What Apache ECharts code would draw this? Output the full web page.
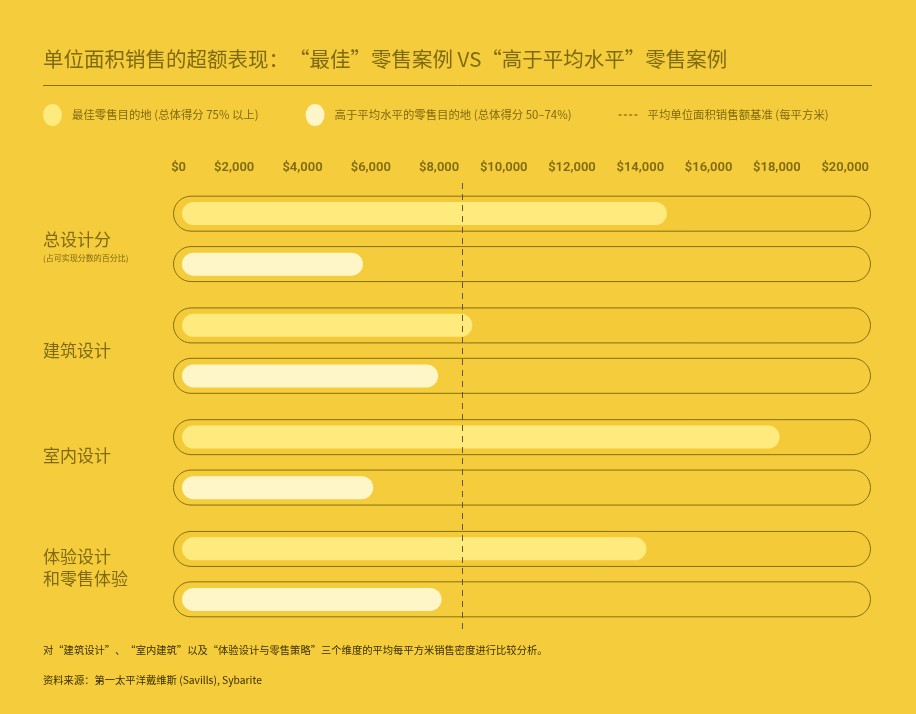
<!DOCTYPE html>
<html>
<head>
<meta charset="utf-8">
<script src="https://cdn.jsdelivr.net/npm/echarts@6/dist/echarts.min.js"></script>
<style>
  html, body { margin: 0; padding: 0; background: #F5CC3B; }
  #chart { width: 916px; height: 714px; }
</style>
</head>
<body>
<div id="chart"></div>
<script>
// ---- data ----
const categories = ['总设计分', '建筑设计', '室内设计', '体验设计\n和零售体验'];
const categoryNotes = ['(占可实现分数的百分比)', '', '', ''];
const seriesNames = ['最佳零售目的地 (总体得分 75% 以上)', '高于平均水平的零售目的地 (总体得分 50–74%)'];
const benchmarkName = '平均单位面积销售额基准 (每平方米)';
const bestValues = [14200, 8500, 17500, 13600];
const aboveAvgValues = [5300, 7500, 5600, 7600];
const benchmarkValue = 8200;
const trackValues = [1, 1, 1, 1];
const axisMin = 0, axisMax = 20000, axisStep = 2000;

// ---- layout / style ----
const labelShift = [8, 0, -7, -7]; // vertical nudge of category labels (px)
const BG = '#F5CC3B';
const OLIVE = '#85700F';
const TEXT = '#7E6A12';
const CJK = '"Noto Sans CJK SC", sans-serif';
const ellipse = 'path://M0,11A9.5,11 0 1,0 19,11A9.5,11 0 1,0 0,11Z';
const dashIcon = 'path://M0,0h0.01v0.01h-0.01z M0,21.99h0.01v0.01h-0.01z M0,10.5h3.5v1h-3.5z M6,10.5h3.5v1h-3.5z M12,10.5h3.5v1h-3.5z M18,10.5h3.5v1h-3.5z';

function catLabel(v, i) {
  let s = v.split('\n').map(t => '{a|' + t + '}').join('\n');
  if (categoryNotes[i]) s += '\n{b|' + categoryNotes[i] + '}';
  const sh = labelShift[i];
  if (sh > 0) s = '{s' + Math.round(sh * 2) + '| }\n' + s;
  if (sh < 0) s = s + '\n{s' + Math.round(-sh * 2) + '| }';
  return s;
}
const rich = {
  a: { fontSize: 17, lineHeight: 22, color: TEXT, fontFamily: CJK },
  b: { fontSize: 8, lineHeight: 14, color: TEXT, fontFamily: CJK }
};
labelShift.forEach(sh => { const h = Math.round(Math.abs(sh) * 2); if (h) rich['s' + h] = { fontSize: 1, lineHeight: h }; });

const chart = echarts.init(document.getElementById('chart'));
const GRID_TOP = 183, GRID_H = 447;

const option = {
  backgroundColor: BG,
  animation: false,
  title: [
    { text: '单位面积销售的超额表现：“最佳”零售案例 VS“高于平均水平”零售案例', left: 43, top: 49, padding: 0,
      textStyle: { fontSize: 20.5, fontWeight: 'normal', color: TEXT, fontFamily: CJK } },
    { text: '对“建筑设计”、“室内建筑”以及“体验设计与零售策略”三个维度的平均每平方米销售密度进行比较分析。', left: 43, top: 645, padding: 0,
      textStyle: { fontSize: 10.3, fontWeight: 'normal', color: '#3A3000', fontFamily: CJK } },
    { text: '资料来源：第一太平洋戴维斯 (Savills), Sybarite', left: 43, top: 675, padding: 0,
      textStyle: { fontSize: 10.3, fontWeight: 'normal', color: '#3A3000', fontFamily: CJK } }
  ],
  graphic: [
    { type: 'line', shape: { x1: 43, y1: 85.5, x2: 872, y2: 85.5 }, style: { stroke: OLIVE, lineWidth: 1 }, silent: true }
  ],
  legend: {
    left: 43, top: 104, padding: 0, itemWidth: 19, itemHeight: 22, itemGap: 47,
    selectedMode: false,
    textStyle: { fontSize: 11.4, color: TEXT, fontFamily: CJK, padding: [0, 0, 0, 5] },
    data: [
      { name: seriesNames[0], icon: ellipse },
      { name: seriesNames[1], icon: ellipse },
      { name: benchmarkName, icon: dashIcon }
    ]
  },
  grid: [
    { left: 173, right: 45, top: GRID_TOP, height: GRID_H },
    { left: 182, right: 51, top: GRID_TOP, height: GRID_H }
  ],
  xAxis: [
    { gridIndex: 0, type: 'value', min: 0, max: 1, show: false },
    { gridIndex: 1, type: 'value', min: axisMin, max: axisMax, interval: axisStep, position: 'top',
      axisLine: { show: false }, axisTick: { show: false }, splitLine: { show: false },
      axisLabel: { align: 'right', margin: 9, fontSize: 13, fontWeight: 600, color: TEXT,
        fontFamily: 'Roboto, sans-serif', padding: [0, -4, 0, 0],
        formatter: v => '$' + v.toLocaleString('en-US') } }
  ],
  yAxis: [
    { gridIndex: 0, type: 'category', data: categories, inverse: true, show: false },
    { gridIndex: 1, type: 'category', data: categories, inverse: true,
      axisLine: { show: false }, axisTick: { show: false },
      axisLabel: { align: 'left', margin: 139, color: TEXT, formatter: catLabel, rich: rich } }
  ],
  series: [
    { name: 'trackBest', type: 'bar', xAxisIndex: 0, yAxisIndex: 0, data: trackValues, barWidth: 36, barGap: '40%', silent: true,
      itemStyle: { color: '#F4CA39', borderColor: OLIVE, borderWidth: 1, borderRadius: 18 } },
    { name: 'trackAvg', type: 'bar', xAxisIndex: 0, yAxisIndex: 0, data: trackValues, barWidth: 36, barGap: '40%', silent: true,
      itemStyle: { color: BG, borderColor: OLIVE, borderWidth: 1, borderRadius: 18 } },
    { name: seriesNames[0], type: 'bar', xAxisIndex: 1, yAxisIndex: 1, data: bestValues, barWidth: 23, barGap: '120%',
      itemStyle: { color: '#FFEA7E', borderRadius: 11.5 } },
    { name: seriesNames[1], type: 'bar', xAxisIndex: 1, yAxisIndex: 1, data: aboveAvgValues, barWidth: 23, barGap: '120%',
      itemStyle: { color: '#FFF6C8', borderRadius: 11.5 } },
    { name: benchmarkName, type: 'line', xAxisIndex: 1, yAxisIndex: 1, data: [],
      itemStyle: { color: '#6B5810' }, lineStyle: { color: '#6B5810' },
      markLine: { silent: true, symbol: ['none', 'none'], label: { show: false },
        lineStyle: { color: '#6B5810', type: [6, 5], width: 1 },
        data: [{ xAxis: benchmarkValue }] } }
  ]
};
chart.setOption(option);
</script>
</body>
</html>
